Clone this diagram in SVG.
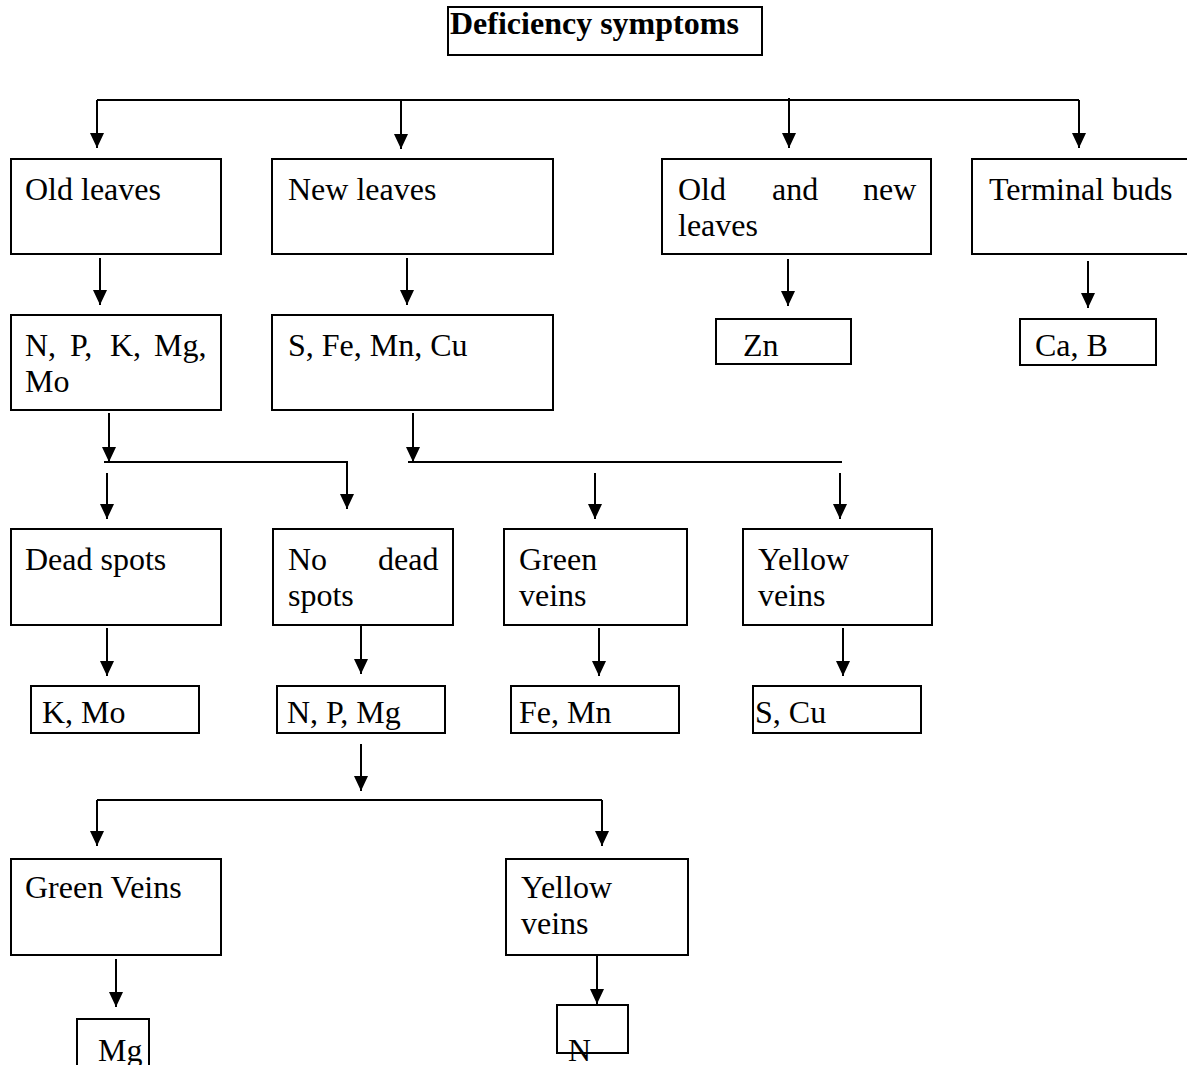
<svg xmlns="http://www.w3.org/2000/svg" width="1187" height="1065" viewBox="0 0 1187 1065">
<defs>
<style>
.box{fill:#fff;stroke:#000;stroke-width:2}
.t{font-family:"Liberation Serif","Times New Roman",serif;font-size:32px;fill:#000}
.tb{font-family:"Liberation Serif","Times New Roman",serif;font-size:32px;font-weight:bold;fill:#000}
.c{fill:none;stroke:#000;stroke-width:2}
.a{fill:none;stroke:#000;stroke-width:2;marker-end:url(#ah)}
</style>
<marker id="ah" viewBox="0 0 15 14" markerWidth="15" markerHeight="14" refX="15" refY="7" orient="auto" markerUnits="userSpaceOnUse">
<path d="M0,0 L15,7 L0,14 z" fill="#000"/>
</marker>
</defs>
<rect width="1187" height="1065" fill="#fff"/>
<g id="connectors">
<path class="c" d="M97,100 H1079"/>
<path class="a" d="M97,100 V148"/>
<path class="a" d="M401,100 V149"/>
<path class="a" d="M789,98 V148"/>
<path class="a" d="M1079,100 V148"/>
<path class="a" d="M100,258 V305"/>
<path class="a" d="M407,258 V305"/>
<path class="a" d="M788,259 V306"/>
<path class="a" d="M1088,261 V308"/>
<path class="a" d="M109,413 V462"/>
<path class="c" d="M104,462 H347 V470"/>
<path class="a" d="M347,462 V509"/>
<path class="a" d="M107,473 V519"/>
<path class="a" d="M413,413 V462"/>
<path class="c" d="M408,462 H842"/>
<path class="a" d="M595,473 V519"/>
<path class="a" d="M840,473 V519"/>
<path class="a" d="M107,628 V676"/>
<path class="a" d="M361,626 V674"/>
<path class="a" d="M599,628 V676"/>
<path class="a" d="M843,628 V676"/>
<path class="a" d="M361,744 V791"/>
<path class="c" d="M97,800 H602"/>
<path class="a" d="M97,800 V846"/>
<path class="a" d="M602,800 V846"/>
<path class="a" d="M116,959 V1007"/>
<path class="a" d="M597,955 V1004"/>
</g>
<g id="title"><rect class="box" x="448" y="7" width="314" height="48"/><text class="tb" x="450" y="34">Deficiency symptoms</text></g>
<g id="old-leaves"><rect class="box" x="11" y="159" width="210" height="95"/><text class="t" x="25" y="200">Old leaves</text></g>
<g id="new-leaves"><rect class="box" x="272" y="159" width="281" height="95"/><text class="t" x="288" y="200">New leaves</text></g>
<g id="old-new-leaves"><rect class="box" x="662" y="159" width="269" height="95"/><text class="t"><tspan x="678" y="200">Old</tspan><tspan x="772" y="200">and</tspan><tspan x="863" y="200">new</tspan><tspan x="678" y="236">leaves</tspan></text></g>
<g id="terminal-buds"><rect class="box" x="972" y="159" width="225" height="95"/><text class="t" x="989" y="200">Terminal buds</text></g>
<g id="npkmgmo"><rect class="box" x="11" y="315" width="210" height="95"/><text class="t"><tspan x="25" y="356">N,</tspan><tspan x="70" y="356">P,</tspan><tspan x="110" y="356">K,</tspan><tspan x="154" y="356">Mg,</tspan><tspan x="25" y="392">Mo</tspan></text></g>
<g id="sfemncu"><rect class="box" x="272" y="315" width="281" height="95"/><text class="t" x="288" y="356">S, Fe, Mn, Cu</text></g>
<g id="zn"><rect class="box" x="716" y="319" width="135" height="45"/><text class="t" x="743" y="356">Zn</text></g>
<g id="cab"><rect class="box" x="1020" y="319" width="136" height="46"/><text class="t" x="1035" y="356">Ca, B</text></g>
<g id="dead-spots"><rect class="box" x="11" y="529" width="210" height="96"/><text class="t" x="25" y="570">Dead spots</text></g>
<g id="no-dead-spots"><rect class="box" x="273" y="529" width="180" height="96"/><text class="t"><tspan x="288" y="570">No</tspan><tspan x="378" y="570">dead</tspan><tspan x="288" y="606">spots</tspan></text></g>
<g id="green-veins-1"><rect class="box" x="504" y="529" width="183" height="96"/><text class="t"><tspan x="519" y="570">Green</tspan><tspan x="519" y="606">veins</tspan></text></g>
<g id="yellow-veins-1"><rect class="box" x="743" y="529" width="189" height="96"/><text class="t"><tspan x="758" y="570">Yellow</tspan><tspan x="758" y="606">veins</tspan></text></g>
<g id="kmo"><rect class="box" x="31" y="686" width="168" height="47"/><text class="t" x="42" y="723">K, Mo</text></g>
<g id="npmg"><rect class="box" x="277" y="686" width="168" height="47"/><text class="t" x="287" y="723">N, P, Mg</text></g>
<g id="femn"><rect class="box" x="511" y="686" width="168" height="47"/><text class="t" x="519" y="723">Fe, Mn</text></g>
<g id="scu"><rect class="box" x="753" y="686" width="168" height="47"/><text class="t" x="755" y="723">S, Cu</text></g>
<g id="green-veins-2"><rect class="box" x="11" y="859" width="210" height="96"/><text class="t" x="25" y="898">Green Veins</text></g>
<g id="yellow-veins-2"><rect class="box" x="506" y="859" width="182" height="96"/><text class="t"><tspan x="521" y="898">Yellow</tspan><tspan x="521" y="934">veins</tspan></text></g>
<g id="mg"><rect class="box" x="77" y="1019" width="72" height="60"/><text class="t" x="98" y="1061">Mg</text></g>
<g id="n"><rect class="box" x="557" y="1005" width="71" height="48"/><text class="t" x="568" y="1061">N</text></g>
</svg>
